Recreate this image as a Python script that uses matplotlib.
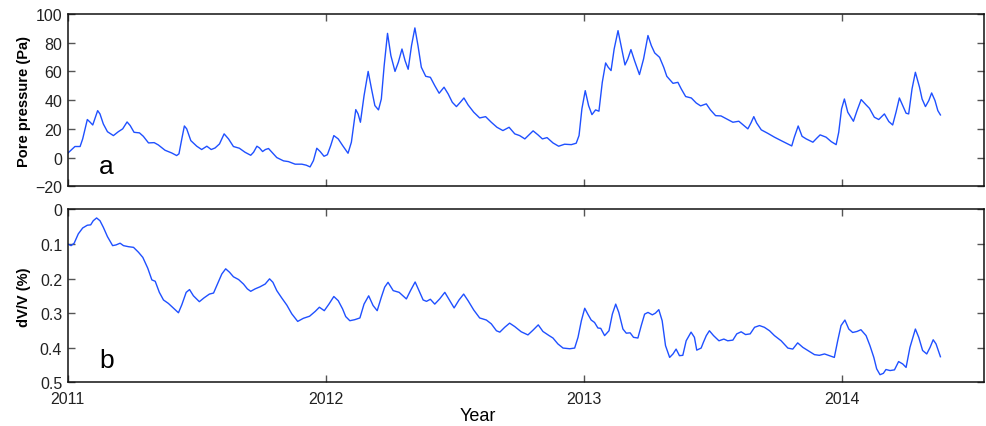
#!/usr/bin/env python3
"""Pore pressure and dV/V time series, 2011-2014."""

import matplotlib
matplotlib.use('Agg')
import matplotlib.pyplot as plt

plt.rcParams['font.family'] = ['Liberation Sans', 'DejaVu Sans']

# Panel a: pore pressure (Pa)
pp_time = [
    2011.000, 2011.028, 2011.048, 2011.058, 2011.076, 2011.087, 2011.097, 2011.116,
    2011.125, 2011.138, 2011.154, 2011.177, 2011.196, 2011.213, 2011.230, 2011.242,
    2011.257, 2011.278, 2011.293, 2011.313, 2011.335, 2011.351, 2011.377, 2011.403,
    2011.422, 2011.431, 2011.442, 2011.452, 2011.461, 2011.477, 2011.500, 2011.519,
    2011.539, 2011.556, 2011.571, 2011.588, 2011.606, 2011.623, 2011.642, 2011.665,
    2011.687, 2011.709, 2011.720, 2011.733, 2011.743, 2011.755, 2011.766, 2011.778,
    2011.791, 2011.810, 2011.836, 2011.855, 2011.881, 2011.907, 2011.924, 2011.939,
    2011.952, 2011.965, 2011.978, 2011.993, 2012.006, 2012.019, 2012.031, 2012.048,
    2012.065, 2012.086, 2012.099, 2012.116, 2012.125, 2012.134, 2012.148, 2012.164,
    2012.177, 2012.190, 2012.204, 2012.215, 2012.226, 2012.239, 2012.252, 2012.268,
    2012.281, 2012.295, 2012.307, 2012.319, 2012.332, 2012.345, 2012.357, 2012.370,
    2012.387, 2012.405, 2012.422, 2012.439, 2012.458, 2012.474, 2012.490, 2012.506,
    2012.521, 2012.535, 2012.551, 2012.573, 2012.596, 2012.619, 2012.641, 2012.663,
    2012.686, 2012.710, 2012.732, 2012.751, 2012.771, 2012.787, 2012.803, 2012.822,
    2012.839, 2012.857, 2012.880, 2012.902, 2012.925, 2012.951, 2012.970, 2012.981,
    2012.992, 2013.005, 2013.018, 2013.031, 2013.045, 2013.058, 2013.071, 2013.084,
    2013.094, 2013.105, 2013.117, 2013.132, 2013.145, 2013.159, 2013.170, 2013.182,
    2013.196, 2013.215, 2013.231, 2013.248, 2013.261, 2013.274, 2013.293, 2013.309,
    2013.321, 2013.345, 2013.364, 2013.377, 2013.394, 2013.416, 2013.435, 2013.452,
    2013.474, 2013.490, 2013.510, 2013.531, 2013.553, 2013.577, 2013.600, 2013.617,
    2013.635, 2013.647, 2013.658, 2013.669, 2013.687, 2013.712, 2013.738, 2013.764,
    2013.790, 2013.805, 2013.815, 2013.830, 2013.845, 2013.861, 2013.887, 2013.902,
    2013.915, 2013.938, 2013.958, 2013.977, 2013.987, 2013.998, 2014.009, 2014.022,
    2014.044, 2014.058, 2014.074, 2014.093, 2014.106, 2014.125, 2014.142, 2014.164,
    2014.181, 2014.196, 2014.209, 2014.222, 2014.235, 2014.248, 2014.258, 2014.271,
    2014.284, 2014.300, 2014.310, 2014.323, 2014.336, 2014.347, 2014.360, 2014.371,
    2014.381,
]
pp_value = [
    3.0, 7.7, 7.7, 13.0, 26.5, 24.6, 22.7, 32.7,
    30.4, 23.4, 18.0, 15.3, 18.0, 20.0, 24.8, 22.3,
    17.6, 17.2, 14.8, 10.2, 10.4, 8.8, 5.1, 3.2,
    1.4, 2.6, 13.0, 22.0, 20.0, 11.8, 7.9, 5.6,
    7.9, 5.6, 6.7, 9.5, 16.5, 13.0, 7.7, 6.5,
    3.7, 1.6, 3.7, 7.9, 6.7, 4.2, 5.6, 6.3,
    3.7, 0.0, -2.3, -2.8, -4.6, -4.6, -5.3, -6.5,
    -2.1, 6.5, 4.2, 0.9, 2.0, 8.4, 15.3, 13.0,
    8.4, 3.0, 10.7, 33.4, 30.4, 24.6, 43.0, 60.0,
    47.8, 36.2, 33.2, 40.8, 64.0, 86.5, 71.0, 60.0,
    66.4, 75.6, 67.5, 61.5, 78.0, 90.3, 78.0, 62.9,
    56.6, 55.9, 50.1, 44.8, 49.0, 44.3, 38.5, 35.5,
    38.5, 41.5, 36.7, 31.6, 27.6, 28.5, 24.6, 21.1,
    18.8, 21.1, 16.5, 15.3, 13.0, 15.8, 18.6, 15.8,
    13.0, 13.9, 10.2, 7.9, 9.3, 9.0, 10.0, 15.3,
    33.9, 46.6, 36.2, 29.9, 33.2, 32.3, 52.4, 65.9,
    62.9, 60.6, 75.6, 88.4, 76.8, 64.5, 68.7, 75.2,
    67.5, 57.8, 68.7, 85.0, 78.0, 72.9, 69.8, 62.9,
    56.6, 51.7, 52.4, 47.8, 42.5, 41.5, 38.0, 36.0,
    37.4, 33.2, 29.2, 29.0, 26.9, 24.6, 25.3, 22.7,
    20.0, 24.1, 28.5, 24.1, 19.3, 16.9, 14.2, 11.8,
    9.5, 8.1, 14.2, 22.0, 14.8, 13.0, 10.7, 13.5,
    15.8, 14.2, 11.1, 9.0, 17.6, 33.9, 40.8, 31.6,
    25.3, 32.7, 40.4, 36.7, 34.3, 28.1, 26.5, 30.4,
    25.1, 22.7, 31.6, 41.5, 36.2, 30.9, 30.4, 47.8,
    59.4, 49.0, 40.8, 35.5, 39.7, 45.0, 39.7, 32.7,
    29.7,
]

# Panel b: relative velocity change dV/V (%)
dvv_time = [
    2011.000, 2011.013, 2011.025, 2011.041, 2011.058, 2011.076, 2011.089, 2011.099,
    2011.112, 2011.125, 2011.138, 2011.154, 2011.174, 2011.187, 2011.203, 2011.216,
    2011.235, 2011.255, 2011.274, 2011.291, 2011.310, 2011.326, 2011.339, 2011.355,
    2011.371, 2011.390, 2011.410, 2011.429, 2011.442, 2011.459, 2011.472, 2011.487,
    2011.510, 2011.528, 2011.549, 2011.565, 2011.580, 2011.597, 2011.612, 2011.627,
    2011.642, 2011.662, 2011.681, 2011.696, 2011.709, 2011.726, 2011.745, 2011.765,
    2011.782, 2011.795, 2011.810, 2011.829, 2011.849, 2011.868, 2011.891, 2011.913,
    2011.937, 2011.959, 2011.975, 2011.994, 2012.012, 2012.031, 2012.048, 2012.065,
    2012.077, 2012.093, 2012.112, 2012.132, 2012.148, 2012.166, 2012.183, 2012.199,
    2012.215, 2012.228, 2012.241, 2012.261, 2012.284, 2012.299, 2012.312, 2012.328,
    2012.346, 2012.361, 2012.377, 2012.390, 2012.405, 2012.422, 2012.441, 2012.461,
    2012.480, 2012.497, 2012.516, 2012.534, 2012.551, 2012.573, 2012.596, 2012.622,
    2012.641, 2012.661, 2012.674, 2012.693, 2012.712, 2012.732, 2012.757, 2012.783,
    2012.803, 2012.823, 2012.841, 2012.865, 2012.880, 2012.899, 2012.919, 2012.945,
    2012.964, 2012.977, 2012.990, 2013.003, 2013.015, 2013.028, 2013.041, 2013.054,
    2013.065, 2013.080, 2013.097, 2013.110, 2013.123, 2013.135, 2013.151, 2013.164,
    2013.179, 2013.192, 2013.209, 2013.222, 2013.235, 2013.248, 2013.265, 2013.277,
    2013.290, 2013.303, 2013.316, 2013.332, 2013.345, 2013.357, 2013.370, 2013.383,
    2013.396, 2013.415, 2013.428, 2013.437, 2013.454, 2013.463, 2013.474, 2013.486,
    2013.502, 2013.523, 2013.542, 2013.557, 2013.577, 2013.592, 2013.609, 2013.626,
    2013.644, 2013.661, 2013.680, 2013.699, 2013.719, 2013.738, 2013.764, 2013.790,
    2013.809, 2013.828, 2013.848, 2013.867, 2013.893, 2013.912, 2013.932, 2013.951,
    2013.970, 2013.983, 2013.996, 2014.011, 2014.026, 2014.041, 2014.058, 2014.073,
    2014.093, 2014.108, 2014.123, 2014.134, 2014.147, 2014.160, 2014.170, 2014.186,
    2014.203, 2014.219, 2014.235, 2014.248, 2014.263, 2014.284, 2014.297, 2014.312,
    2014.328, 2014.341, 2014.353, 2014.364, 2014.381,
]
dvv_value = [
    0.100, 0.105, 0.098, 0.071, 0.054, 0.046, 0.045, 0.033,
    0.025, 0.033, 0.052, 0.079, 0.105, 0.103, 0.098, 0.105,
    0.108, 0.110, 0.124, 0.139, 0.170, 0.204, 0.208, 0.240,
    0.262, 0.272, 0.286, 0.299, 0.276, 0.240, 0.232, 0.250,
    0.267, 0.256, 0.245, 0.242, 0.216, 0.187, 0.172, 0.182,
    0.195, 0.203, 0.216, 0.230, 0.237, 0.230, 0.224, 0.216,
    0.201, 0.211, 0.235, 0.256, 0.277, 0.302, 0.324, 0.315,
    0.309, 0.295, 0.283, 0.293, 0.274, 0.252, 0.264, 0.288,
    0.310, 0.322, 0.319, 0.314, 0.274, 0.250, 0.278, 0.293,
    0.254, 0.225, 0.211, 0.235, 0.240, 0.250, 0.259, 0.235,
    0.210, 0.235, 0.262, 0.266, 0.260, 0.274, 0.259, 0.240,
    0.264, 0.285, 0.262, 0.245, 0.264, 0.291, 0.314, 0.320,
    0.331, 0.351, 0.355, 0.341, 0.329, 0.339, 0.354, 0.363,
    0.349, 0.334, 0.353, 0.365, 0.372, 0.389, 0.401, 0.403,
    0.401, 0.370, 0.322, 0.286, 0.303, 0.320, 0.327, 0.343,
    0.344, 0.365, 0.351, 0.303, 0.274, 0.298, 0.346, 0.358,
    0.357, 0.370, 0.372, 0.336, 0.303, 0.298, 0.305, 0.300,
    0.290, 0.322, 0.394, 0.428, 0.418, 0.404, 0.423, 0.422,
    0.380, 0.355, 0.370, 0.407, 0.401, 0.384, 0.365, 0.351,
    0.365, 0.380, 0.375, 0.380, 0.378, 0.360, 0.354, 0.362,
    0.360, 0.341, 0.336, 0.341, 0.351, 0.365, 0.380, 0.401,
    0.404, 0.386, 0.399, 0.408, 0.420, 0.422, 0.418, 0.423,
    0.428, 0.380, 0.336, 0.320, 0.346, 0.356, 0.353, 0.348,
    0.365, 0.394, 0.428, 0.461, 0.478, 0.474, 0.463, 0.466,
    0.464, 0.440, 0.447, 0.457, 0.399, 0.346, 0.370, 0.408,
    0.418, 0.399, 0.377, 0.389, 0.426,
]

year_ticks = [2011, 2012, 2013, 2014]
pp_ticks = [-20, 0, 20, 40, 60, 80, 100]
dvv_ticks = [0, 0.1, 0.2, 0.3, 0.4, 0.5]
dvv_ticklabels = ['0', '0.1', '0.2', '0.3', '0.4', '0.5']

LINE_COLOR = '#1f50ff'


def style_axes(ax):
    for spine in ax.spines.values():
        spine.set_linewidth(1.1)
        spine.set_color('#111111')
    ax.tick_params(direction='in', top=True, right=True, length=5,
                   width=1.0, color='#555555', labelsize=11.5,
                   labelcolor='#222222', pad=4)


fig = plt.figure(figsize=(9.87, 4.27), dpi=100)
ax1 = fig.add_axes([0.0686, 0.5614, 0.9284, 0.4035])
ax2 = fig.add_axes([0.0686, 0.1023, 0.9284, 0.4052])

# a) pore pressure
ax1.plot(pp_time, pp_value, color=LINE_COLOR, linewidth=1.0,
         solid_joinstyle='round')
ax1.set_xlim(2011, 2014.55)
ax1.set_ylim(-20, 100)
ax1.set_xticks(year_ticks)
ax1.set_xticklabels([])
ax1.set_yticks(pp_ticks)
ax1.set_yticklabels(['\u221220' if v < 0 else str(v) for v in pp_ticks])
ax1.set_ylabel('Pore pressure (Pa)', fontsize=10.5, fontweight='bold')
ax1.yaxis.set_label_coords(-0.040, 0.5)
ax1.text(0.034, 0.075, 'a', transform=ax1.transAxes, fontsize=19)
style_axes(ax1)

# b) dV/V, inverted axis
ax2.plot(dvv_time, dvv_value, color=LINE_COLOR, linewidth=1.0,
         solid_joinstyle='round')
ax2.set_xlim(2011, 2014.55)
ax2.set_ylim(0.5, 0)
ax2.set_xticks(year_ticks)
ax2.set_xticklabels([str(y) for y in year_ticks])
ax2.set_yticks(dvv_ticks)
ax2.set_yticklabels(dvv_ticklabels)
ax2.set_ylabel('dV/V (%)', fontsize=10.5, fontweight='bold')
ax2.yaxis.set_label_coords(-0.040, 0.5)
ax2.set_xlabel('Year', fontsize=13)
ax2.xaxis.set_label_coords(0.448, -0.145)
ax2.text(0.034, 0.09, 'b', transform=ax2.transAxes, fontsize=19)
style_axes(ax2)
ax2.tick_params(axis='x', pad=6.5)

fig.savefig('out.png', dpi=100)
plt.close(fig)
